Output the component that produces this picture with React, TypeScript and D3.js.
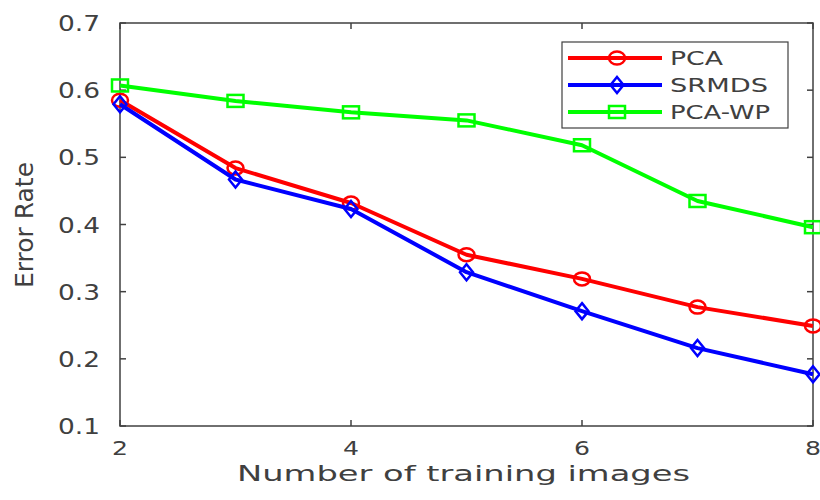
import React from 'react';
import * as d3 from 'd3';

// values
const trainingImages = [2, 3, 4, 5, 6, 7, 8];
const pcaValues = [0.585, 0.484, 0.432, 0.355, 0.319, 0.277, 0.249];
const srmdsValues = [0.579, 0.467, 0.423, 0.329, 0.271, 0.216, 0.177];
const pcaWpValues = [0.607, 0.584, 0.567, 0.555, 0.518, 0.435, 0.396];
const xTicks = [2, 4, 6, 8];
const yTicks = [0.1, 0.2, 0.3, 0.4, 0.5, 0.6, 0.7];

const series = [
  { name: 'PCA', values: pcaValues, color: '#ff0000', marker: 'circle', textLen: 53 },
  { name: 'SRMDS', values: srmdsValues, color: '#0000ff', marker: 'diamond', textLen: 98 },
  { name: 'PCA-WP', values: pcaWpValues, color: '#00ff00', marker: 'square', textLen: 100 },
];

const W = 820;
const H = 500;
const left = 120, right = 813, top = 23, bottom = 426;
const axisColor = '#404040';
const font = '"DejaVu Sans", sans-serif';

const Marker = ({ type, x, y, color }: { type: string; x: number; y: number; color: string }) => {
  if (type === 'circle') {
    return <ellipse cx={x} cy={y} rx={8} ry={6.5} fill="none" stroke={color} strokeWidth={2.5} />;
  }
  if (type === 'diamond') {
    const pts = [[x, y - 8], [x + 6.5, y], [x, y + 8], [x - 6.5, y]].map(p => p.join(',')).join(' ');
    return <polygon points={pts} fill="none" stroke={color} strokeWidth={2.5} />;
  }
  return <rect x={x - 8} y={y - 6} width={16} height={12} fill="none" stroke={color} strokeWidth={2.5} />;
};

const App = () => {
  const x = d3.scaleLinear().domain([2, 8]).range([left, right]);
  const y = d3.scaleLinear().domain([0.1, 0.7]).range([bottom, top]);

  const line = d3.line<number>()
    .x((d, i) => x(trainingImages[i]))
    .y(d => y(d));

  const legendRows = [58, 85, 112];

  return (
    <svg width={W} height={H} style={{ position: 'absolute', left: 0, top: 0, background: '#fff' }}>
      {/* axes box */}
      <rect x={left} y={top} width={right - left} height={bottom - top} fill="none" stroke={axisColor} strokeWidth={1.5} />
      {yTicks.map(t => (
        <g key={'y' + t}>
          <line x1={left} x2={left + 6} y1={y(t)} y2={y(t)} stroke={axisColor} strokeWidth={1.5} />
          <line x1={right - 6} x2={right} y1={y(t)} y2={y(t)} stroke={axisColor} strokeWidth={1.5} />
          <text x={58} y={y(t) + 8} fontFamily={font} fontSize={22} fill={axisColor}
            textLength={42} lengthAdjust="spacingAndGlyphs">{t.toFixed(1)}</text>
        </g>
      ))}
      {xTicks.map(t => (
        <g key={'x' + t}>
          <line x1={x(t)} x2={x(t)} y1={bottom} y2={bottom - 6} stroke={axisColor} strokeWidth={1.5} />
          <line x1={x(t)} x2={x(t)} y1={top} y2={top + 6} stroke={axisColor} strokeWidth={1.5} />
          <text x={x(t) - 8} y={455} fontFamily={font} fontSize={19} fill={axisColor}
            textLength={16} lengthAdjust="spacingAndGlyphs">{t}</text>
        </g>
      ))}
      <text x={237} y={481} fontFamily={font} fontSize={22} fill={axisColor}
        textLength={453} lengthAdjust="spacingAndGlyphs">Number of training images</text>
      <text transform="translate(33,288) rotate(-90)" fontFamily={font} fontSize={24} fill={axisColor}
        textLength={126} lengthAdjust="spacingAndGlyphs">Error Rate</text>

      {/* series */}
      {series.map(s => (
        <g key={s.name}>
          <path d={line(s.values) || ''} fill="none" stroke={s.color} strokeWidth={4} strokeLinejoin="round" />
          {s.values.map((v, i) => (
            <Marker key={i} type={s.marker} x={x(trainingImages[i])} y={y(v)} color={s.color} />
          ))}
        </g>
      ))}

      {/* legend */}
      <rect x={562} y={42} width={226} height={86} fill="#fff" stroke={axisColor} strokeWidth={1.2} />
      {series.map((s, i) => (
        <g key={'lg' + s.name}>
          <line x1={568} x2={662} y1={legendRows[i]} y2={legendRows[i]} stroke={s.color} strokeWidth={4} />
          <Marker type={s.marker} x={617} y={legendRows[i]} color={s.color} />
          <text x={670} y={legendRows[i] + 7} fontFamily={font} fontSize={19} fill={axisColor}
            textLength={s.textLen} lengthAdjust="spacingAndGlyphs">{s.name}</text>
        </g>
      ))}
    </svg>
  );
};

export default App;
